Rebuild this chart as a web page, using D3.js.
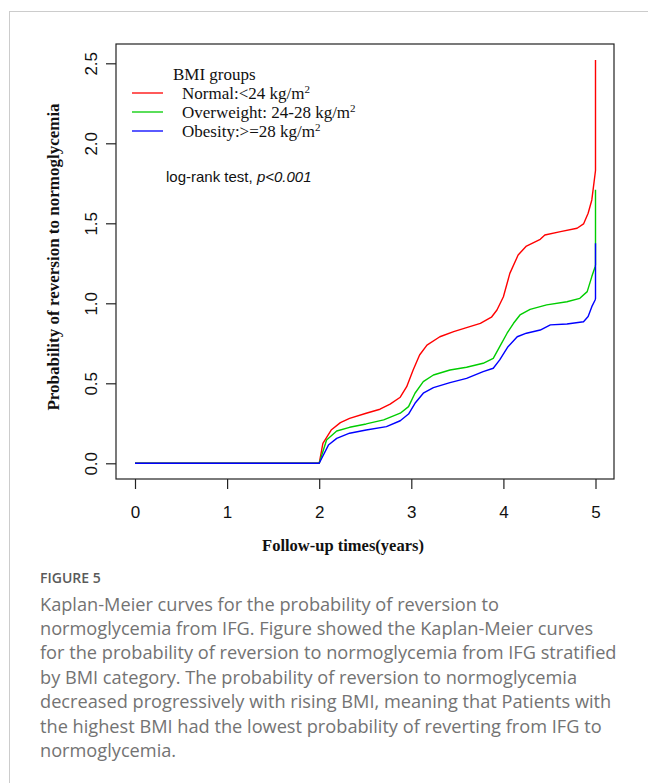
<!DOCTYPE html>
<html>
<head>
<meta charset="utf-8">
<script src="https://cdn.jsdelivr.net/npm/d3@7"></script>
<style>
  html, body { margin: 0; padding: 0; background: #fff; }
  svg { display: block; }
</style>
</head>
<body>
<svg id="chart" width="648" height="783"></svg>
<script>
// ---- data ----
const xTicks = [0, 1, 2, 3, 4, 5];
const yTicks = [0, 0.5, 1.0, 1.5, 2.0, 2.5];

const seriesNames = ["Normal:<24 kg/m", "Overweight: 24-28 kg/m", "Obesity:>=28 kg/m"];
const seriesColors = ["#ff0000", "#00cd00", "#0000ff"];

const normalTime = [0, 2.0, 2.04, 2.13, 2.23, 2.33, 2.51, 2.66, 2.77, 2.88, 2.95, 3.02, 3.09, 3.17, 3.31, 3.46, 3.60, 3.75, 3.87, 3.93, 4.0, 4.07, 4.16, 4.25, 4.40, 4.45, 4.62, 4.80, 4.87, 4.92, 4.96, 4.985, 5.0, 5.0];
const normalProb = [0, 0, 0.125, 0.208, 0.254, 0.281, 0.313, 0.338, 0.37, 0.413, 0.479, 0.583, 0.677, 0.739, 0.791, 0.823, 0.848, 0.875, 0.913, 0.958, 1.041, 1.187, 1.302, 1.358, 1.40, 1.427, 1.448, 1.469, 1.496, 1.563, 1.646, 1.76, 1.83, 2.52];

const overweightTime = [0, 2.0, 2.08, 2.19, 2.33, 2.51, 2.70, 2.88, 2.97, 3.04, 3.13, 3.24, 3.42, 3.60, 3.78, 3.89, 3.96, 4.04, 4.11, 4.18, 4.29, 4.47, 4.69, 4.83, 4.91, 4.96, 4.996, 5.0, 5.0];
const overweightProb = [0, 0, 0.146, 0.202, 0.225, 0.246, 0.271, 0.313, 0.354, 0.438, 0.51, 0.552, 0.583, 0.60, 0.625, 0.656, 0.729, 0.813, 0.875, 0.927, 0.962, 0.99, 1.01, 1.031, 1.073, 1.167, 1.229, 1.24, 1.71];

const obesityTime = [0, 2.0, 2.10, 2.19, 2.33, 2.51, 2.73, 2.88, 2.97, 3.04, 3.13, 3.24, 3.42, 3.60, 3.78, 3.89, 3.96, 4.05, 4.15, 4.25, 4.40, 4.51, 4.69, 4.87, 4.92, 4.96, 4.996, 5.0, 5.0];
const obesityProb = [0, 0, 0.114, 0.156, 0.188, 0.208, 0.229, 0.266, 0.308, 0.375, 0.438, 0.473, 0.504, 0.531, 0.573, 0.594, 0.646, 0.729, 0.791, 0.813, 0.833, 0.865, 0.871, 0.885, 0.917, 0.979, 1.021, 1.03, 1.375];

const captionHead = "FIGURE 5";
const captionLines = [
  "Kaplan-Meier curves for the probability of reversion to",
  "normoglycemia from IFG. Figure showed the Kaplan-Meier curves",
  "for the probability of reversion to normoglycemia from IFG stratified",
  "by BMI category. The probability of reversion to normoglycemia",
  "decreased progressively with rising BMI, meaning that Patients with",
  "the highest BMI had the lowest probability of reverting from IFG to",
  "normoglycemia."
];

// ---- drawing ----
const svg = d3.select("#chart");

// page frame
svg.append("line").attr("x1", 9).attr("x2", 648).attr("y1", 11.5).attr("y2", 11.5)
  .attr("stroke", "#cccccc").attr("stroke-width", 1);
svg.append("line").attr("x1", 9.5).attr("x2", 9.5).attr("y1", 11).attr("y2", 783)
  .attr("stroke", "#cccccc").attr("stroke-width", 1);

const box = {left: 116, top: 44, right: 614, bottom: 479};
const x = d3.scaleLinear().domain([0, 5]).range([135, 595.5]);
const y = d3.scaleLinear().domain([0, 2.5]).range([463.3, 63.3]);

const axisColor = "#222";
const sans = "'Liberation Sans', Arial, sans-serif";
const serif = "'Liberation Serif', 'Times New Roman', serif";

// x axis
const gx = svg.append("g").attr("transform", `translate(0,${box.bottom})`)
  .call(d3.axisBottom(x).tickValues(xTicks).tickSize(10).tickPadding(17).tickFormat(d3.format("d")));
gx.select(".domain").remove();
gx.selectAll(".tick line").attr("stroke", axisColor).attr("stroke-width", 1.2);
gx.selectAll(".tick text").attr("font-family", sans).attr("font-size", 17).attr("fill", "#111");

// y axis
const gy = svg.append("g").attr("transform", `translate(${box.left},0)`)
  .call(d3.axisLeft(y).tickValues(yTicks).tickSize(10).tickFormat(d3.format(".1f")));
gy.select(".domain").remove();
gy.selectAll(".tick line").attr("stroke", axisColor).attr("stroke-width", 1.2);
gy.selectAll(".tick text")
  .attr("x", null).attr("dy", null)
  .attr("transform", "translate(-19,0) rotate(-90)")
  .attr("text-anchor", "middle")
  .attr("font-family", sans).attr("font-size", 17).attr("fill", "#111");

// curves
const line = d3.line().x(d => x(d[0])).y(d => y(d[1]));
const series = [
  d3.zip(normalTime, normalProb),
  d3.zip(overweightTime, overweightProb),
  d3.zip(obesityTime, obesityProb)
];
series.forEach((s, i) => {
  svg.append("path").datum(s).attr("d", line)
    .attr("fill", "none").attr("stroke", seriesColors[i]).attr("stroke-width", 1.4)
    .attr("stroke-linejoin", "round");
});

// box
svg.append("rect").attr("x", box.left).attr("y", box.top)
  .attr("width", box.right - box.left).attr("height", box.bottom - box.top)
  .attr("fill", "none").attr("stroke", axisColor).attr("stroke-width", 1.2);

// axis titles
svg.append("text").attr("x", 343).attr("y", 551)
  .attr("text-anchor", "middle").attr("font-family", serif).attr("font-weight", "bold")
  .attr("font-size", 16.5).attr("fill", "#111").text("Follow-up times(years)");
svg.append("text").attr("transform", "translate(59,257) rotate(-90)")
  .attr("text-anchor", "middle").attr("font-family", serif).attr("font-weight", "bold")
  .attr("font-size", 17).attr("fill", "#111").text("Probability of reversion to normoglycemia");

// legend
const legY = [93, 112, 131];
svg.append("text").attr("x", 173).attr("y", 74).attr("dy", "0.35em")
  .attr("font-family", serif).attr("font-size", 17).attr("fill", "#111").text("BMI groups");
seriesNames.forEach((n, i) => {
  svg.append("line").attr("x1", 132).attr("x2", 163).attr("y1", legY[i]).attr("y2", legY[i])
    .attr("stroke", seriesColors[i]).attr("stroke-width", 1.3);
  const t = svg.append("text").attr("x", 182).attr("y", legY[i]).attr("dy", "0.35em")
    .attr("font-family", serif).attr("font-size", 17).attr("fill", "#111");
  t.append("tspan").text(n);
  t.append("tspan").attr("font-size", 11).attr("dy", "-0.55em").text("2");
});

// log-rank annotation
const lr = svg.append("text").attr("x", 166).attr("y", 177).attr("dy", "0.35em")
  .attr("font-family", sans).attr("font-size", 15).attr("fill", "#111");
lr.append("tspan").text("log-rank test, ");
lr.append("tspan").attr("font-style", "italic").text("p<0.001");

// caption
const capFont = "'Open Sans', 'Noto Sans', sans-serif";
svg.append("text").attr("x", 40).attr("y", 583)
  .attr("font-family", capFont).attr("font-size", 14).attr("font-weight", 600)
  .attr("fill", "#5a5a5a").text(captionHead);
captionLines.forEach((l, i) => {
  svg.append("text").attr("x", 40).attr("y", 610.5 + i * 24.4)
    .attr("font-family", capFont).attr("font-size", 18.2)
    .attr("fill", "#737373").text(l);
});
</script>
</body>
</html>
